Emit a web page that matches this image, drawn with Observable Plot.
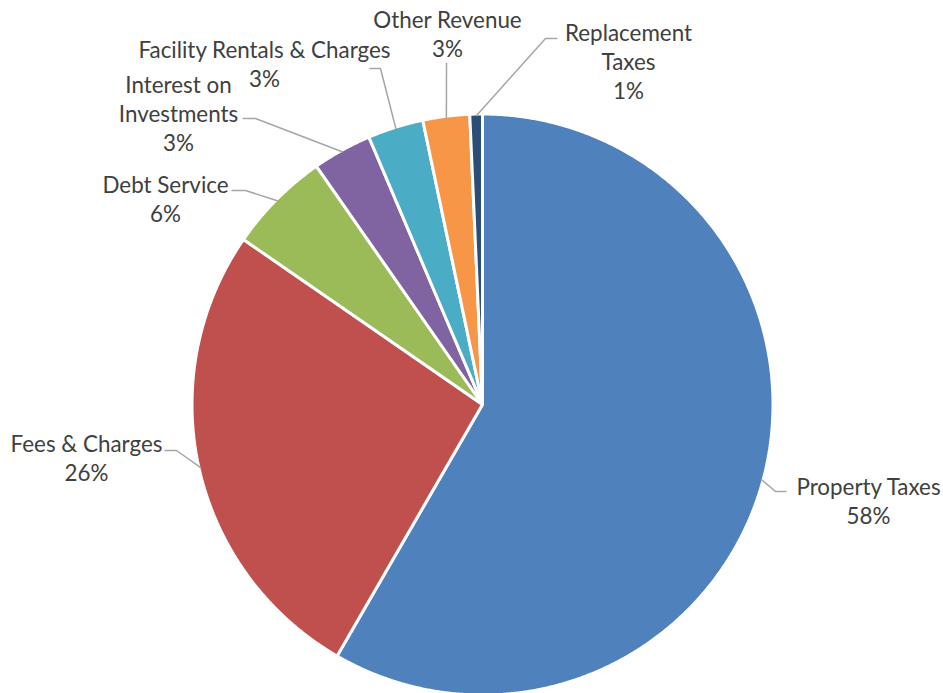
<!DOCTYPE html>
<html><head><meta charset="utf-8">
<script src="https://cdn.jsdelivr.net/npm/d3@7"></script>
<script src="https://cdn.jsdelivr.net/npm/@observablehq/plot@0.6"></script>
<style>html,body{margin:0;padding:0;background:#fff;}</style>
</head><body><div id="chart"></div>
<script>
// ---- data ----
const categories = ["Property Taxes","Fees & Charges","Debt Service","Interest on Investments","Facility Rentals & Charges","Other Revenue","Replacement Taxes"];
const values = [58.4, 26.3, 5.7, 3.3, 3.1, 2.6, 0.7];
const labelNames = ["Property Taxes","Fees & Charges","Debt Service","Interest on\nInvestments","Facility Rentals & Charges","Other Revenue","Replacement\nTaxes"];
const colors = ["#4F81BD","#C0504D","#9BBB59","#8064A2","#4BACC6","#F79646","#2C4D75"];

// ---- layout ----
const W = 943, H = 693, CX = 482, CY = 404, R = 290.5;
const labelLayout = [
  {x: 868, y: 499.5, ex: 786, ey: 491, bx: 775, by: 491},
  {x: 86,  y: 457,   ex: 164, ey: 450, bx: 176, by: 450},
  {x: 165, y: 197.5, ex: 231, ey: 190, bx: 245, by: 190},
  {x: 178, y: 112,   ex: 242, ey: 118, bx: 255, by: 118},
  {x: 264, y: 62.5,  ex: 369, ey: 68,  bx: 380, by: 68},
  {x: 447, y: 33,    ex: 446, ey: 62,  bx: 446, by: 62},
  {x: 628, y: 60,    ex: 557, ey: 38,  bx: 545, by: 38}
];

const total = d3.sum(values);
const pt = (a, r) => [CX + r * Math.sin(a), CY - r * Math.cos(a)];

const slices = [], leaders = [], labels = [];
let acc = 0;
values.forEach((v, i) => {
  const a0 = acc / total * 2 * Math.PI;
  acc += v;
  const a1 = acc / total * 2 * Math.PI;
  const cat = categories[i];
  slices.push({cat, x: CX, y: CY});
  const n = Math.max(2, Math.ceil((a1 - a0) / (Math.PI / 720)));
  for (let k = 0; k <= n; k++) {
    const [x, y] = pt(a0 + (a1 - a0) * k / n, R);
    slices.push({cat, x, y});
  }
  const L = labelLayout[i];
  const [mx, my] = pt((a0 + a1) / 2, R - 2);
  leaders.push({cat, x: L.ex, y: L.ey}, {cat, x: L.bx, y: L.by}, {cat, x: mx, y: my});
  labels.push({cat, x: L.x, y: L.y, text: labelNames[i] + "\n" + Math.round(v / total * 100) + "%"});
});

const chart = Plot.plot({
  width: W, height: H, margin: 0,
  x: {domain: [0, W], range: [0, W], axis: null},
  y: {domain: [0, H], range: [0, H], axis: null},
  color: {domain: categories, range: colors},
  style: {fontFamily: "Lato, sans-serif", background: "white"},
  marks: [
    Plot.line(slices, {x: "x", y: "y", z: "cat", fill: "cat", stroke: "white", strokeWidth: 3, strokeLinejoin: "miter", curve: "linear-closed"}),
    Plot.line(leaders, {x: "x", y: "y", z: "cat", stroke: "#A6A6A6", strokeWidth: 1.5, strokeLinejoin: "miter", strokeLinecap: "butt"}),
    Plot.text(labels, {x: "x", y: "y", text: "text", textAnchor: "middle", lineAnchor: "middle", lineHeight: 1.3, fontSize: 22.4, fill: "#404040"})
  ]
});
document.getElementById("chart").appendChild(chart);
</script>
</body></html>
